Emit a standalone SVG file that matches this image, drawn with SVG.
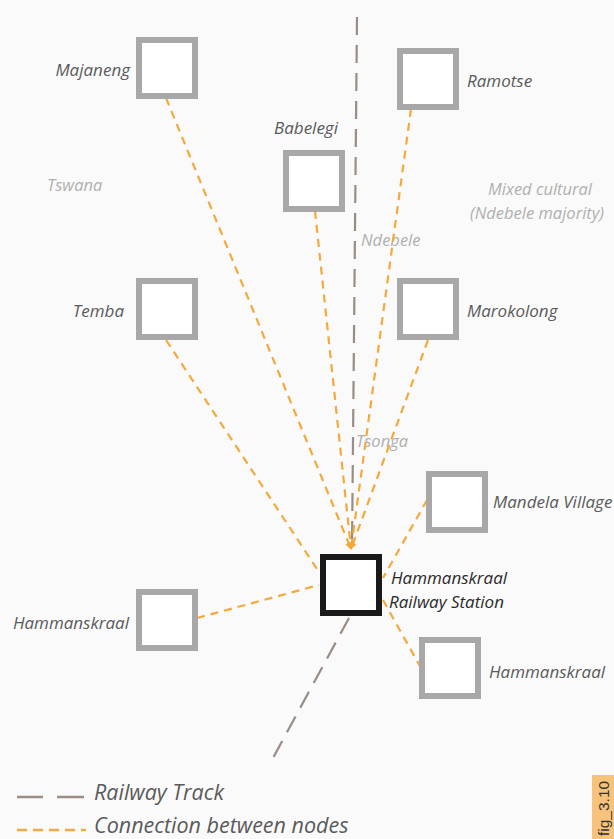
<svg xmlns="http://www.w3.org/2000/svg" width="614" height="839" viewBox="0 0 614 839">
<style>
.box{fill:#ffffff;stroke:#a8a8a8;stroke-width:6}
.station{fill:#ffffff;stroke:#1a1a1a;stroke-width:6}
.lbl{font-family:"Open Sans","Liberation Sans",sans-serif;font-style:italic;font-size:17px;fill:#5a5a5a}
.stlbl{font-family:"Open Sans","Liberation Sans",sans-serif;font-style:italic;font-size:17px;fill:#2a2a2a}
.reg{font-family:"Open Sans","Liberation Sans",sans-serif;font-style:italic;font-size:16.5px;fill:#b0b0b0}
.rail{stroke:#9a8c86;stroke-width:2.2;stroke-dasharray:18 10;fill:none}
.conn{stroke:#f3a93c;stroke-width:2.2;stroke-dasharray:8 6;fill:none}
.leg{font-family:"Open Sans","Liberation Sans",sans-serif;font-style:italic;font-size:21.5px;fill:#5a5a5a}
</style>
<defs>
<marker id="arr" viewBox="0 0 10 10" refX="9" refY="5" markerWidth="7" markerHeight="7" orient="auto" markerUnits="userSpaceOnUse">
<path d="M0,0 L10,5 L0,10 z" fill="#f3a93c"/>
</marker>
</defs>
<rect x="0" y="0" width="614" height="839" fill="#fafafa"/>
<g id="regions">
<text class="reg" x="47" y="191">Tswana</text>
<text class="reg" x="488" y="195">Mixed cultural</text>
<text class="reg" x="470" y="219">(Ndebele majority)</text>
<text class="reg" x="361" y="246">Ndebele</text>
<text class="reg" x="356" y="447">Tsonga</text>
</g>
<g id="connectors">
<line class="rail" x1="357" y1="17" x2="352" y2="548"/>
<line class="rail" x1="349" y1="618" x2="273" y2="758"/>
<line class="conn" x1="166" y1="98" x2="351" y2="549" marker-end="url(#arr)"/>
<line class="conn" x1="315" y1="211" x2="351" y2="549" marker-end="url(#arr)"/>
<line class="conn" x1="411" y1="109" x2="351" y2="549" marker-end="url(#arr)"/>
<line class="conn" x1="428" y1="340" x2="351" y2="549" marker-end="url(#arr)"/>
<line class="conn" x1="166" y1="340" x2="319" y2="572"/>
<line class="conn" x1="197" y1="618" x2="319" y2="585"/>
<line class="conn" x1="427" y1="500" x2="383" y2="578"/>
<line class="conn" x1="383" y1="600" x2="421" y2="668"/>
</g>
<g id="majaneng"><rect class="box" x="139" y="40" width="56" height="56"/><text class="lbl" x="130" y="76" text-anchor="end">Majaneng</text></g>
<g id="ramotse"><rect class="box" x="400" y="51" width="56" height="56"/><text class="lbl" x="467" y="87">Ramotse</text></g>
<g id="babelegi"><rect class="box" x="286" y="153" width="56" height="56"/><text class="lbl" x="306" y="134" text-anchor="middle">Babelegi</text></g>
<g id="temba"><rect class="box" x="139" y="281" width="56" height="56"/><text class="lbl" x="124" y="317" text-anchor="end">Temba</text></g>
<g id="marokolong"><rect class="box" x="400" y="281" width="56" height="56"/><text class="lbl" x="467" y="317">Marokolong</text></g>
<g id="mandela"><rect class="box" x="429" y="474" width="56" height="56"/><text class="lbl" x="493" y="508">Mandela Village</text></g>
<g id="station"><rect class="station" x="323" y="557" width="56" height="56"/><text class="stlbl" x="391" y="584">Hammanskraal</text><text class="stlbl" x="389" y="608">Railway Station</text></g>
<g id="hammanskraal-w"><rect class="box" x="139" y="592" width="56" height="56"/><text class="lbl" x="129" y="629" text-anchor="end">Hammanskraal</text></g>
<g id="hammanskraal-e"><rect class="box" x="422" y="640" width="56" height="56"/><text class="lbl" x="489" y="678">Hammanskraal</text></g>
<g id="legend">
<line x1="17" y1="797" x2="43" y2="797" stroke="#9a8c86" stroke-width="2.5"/>
<line x1="57" y1="797" x2="84" y2="797" stroke="#9a8c86" stroke-width="2.5"/>
<text class="leg" x="94" y="800">Railway Track</text>
<line x1="17" y1="830" x2="86" y2="830" stroke="#f3a93c" stroke-width="2.5" stroke-dasharray="10 6"/>
<text class="leg" x="94" y="833">Connection between nodes</text>
</g>
<g id="figlabel">
<rect x="592" y="775" width="22" height="64" fill="#f7c27a"/>
<text x="609" y="836" transform="rotate(-90 609 836)" font-family="'Liberation Sans',sans-serif" font-size="15.5" fill="#333">fig_3.10</text>
</g>
</svg>
